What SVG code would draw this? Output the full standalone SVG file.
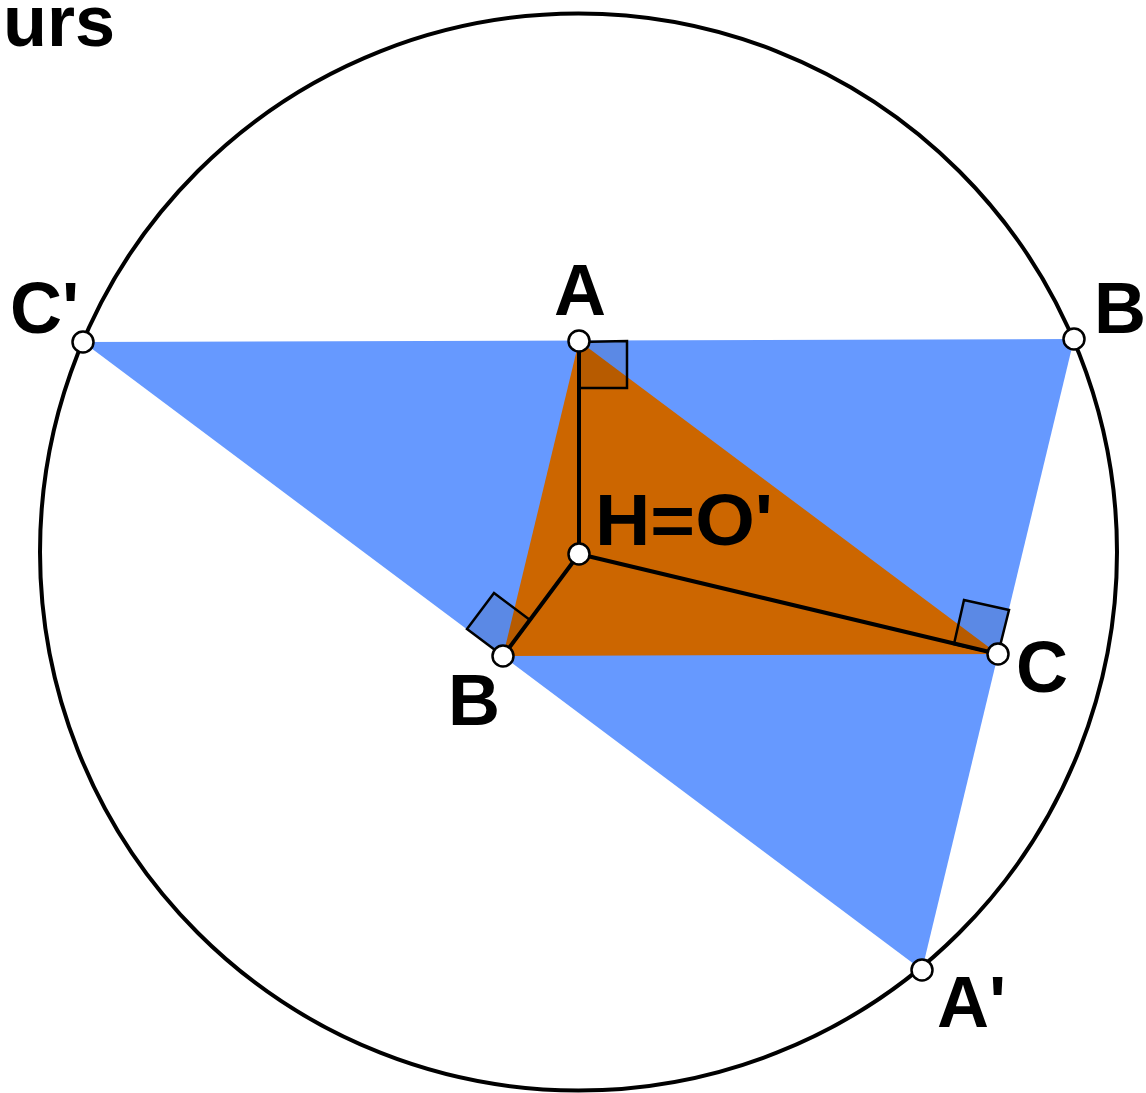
<svg xmlns="http://www.w3.org/2000/svg" width="1146" height="1093" viewBox="0 0 1146 1093">
<style>
.lbl{font-family:"Liberation Sans","DejaVu Sans",sans-serif;font-weight:bold;font-size:72px;fill:#000}
.seg{stroke:#000;stroke-width:4;fill:none;stroke-linecap:round}
.ra{stroke:#000;stroke-width:2.5;fill:#000;fill-opacity:0.1;stroke-linejoin:miter}
.pt{fill:#fff;stroke:#000;stroke-width:2.5}
</style>
<rect width="1146" height="1093" fill="#fff"/>
<text class="lbl" x="3" y="46">urs</text>
<g id="circle"><circle cx="578.5" cy="552" r="538.5" fill="none" stroke="#000" stroke-width="4"/></g>
<g id="triangle-prime"><polygon points="83,342 1074,339 922,970" fill="#6699FF"/></g>
<g id="triangle-ABC"><polygon points="579,341 503,656 998,654" fill="#CC6600"/></g>
<g id="right-angles">
<polygon class="ra" points="579,342 627,341 627,388 579,388"/>
<polygon class="ra" points="503,656 467,629 494,593 530,620"/>
<polygon class="ra" points="998,654 954,644 964,600 1009,610"/>
</g>
<g id="connectors">
<line class="seg" x1="579" y1="341" x2="579" y2="554"/>
<line class="seg" x1="579" y1="554" x2="503" y2="656"/>
<line class="seg" x1="579" y1="554" x2="998" y2="654"/>
</g>
<g id="point-Cp"><circle class="pt" cx="83" cy="342" r="10.5"/><text class="lbl" x="10" y="333">C'</text></g>
<g id="point-Bp"><circle class="pt" cx="1074" cy="339" r="10.5"/><text class="lbl" x="1094" y="333">B</text></g>
<g id="point-Ap"><circle class="pt" cx="922" cy="970" r="10.5"/><text class="lbl" x="937" y="1027">A'</text></g>
<g id="point-A"><circle class="pt" cx="579" cy="341" r="10.5"/><text class="lbl" x="580" y="315" text-anchor="middle">A</text></g>
<g id="point-B"><circle class="pt" cx="503" cy="656" r="10.5"/><text class="lbl" x="448" y="725">B</text></g>
<g id="point-C"><circle class="pt" cx="998" cy="654" r="10.5"/><text class="lbl" x="1016" y="692">C</text></g>
<g id="point-H"><circle class="pt" cx="579" cy="554" r="10.5"/><text class="lbl" x="595" y="545" textLength="178" lengthAdjust="spacingAndGlyphs">H=O'</text></g>
</svg>
